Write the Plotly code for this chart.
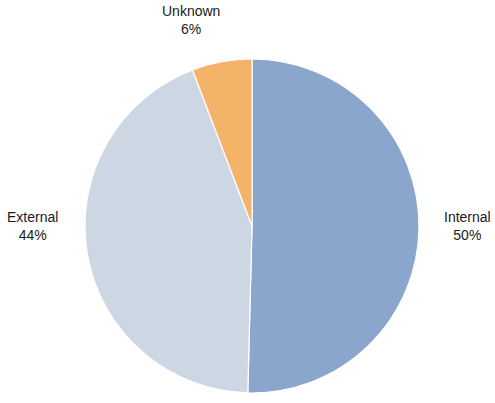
import plotly.graph_objects as go

# Share of incidents by origin
categories = ["Internal", "External", "Unknown"]
values = [50.4, 43.8, 5.8]
colors = ["#8AA6CC", "#CDD7E3", "#F5B36A"]

W, H = 495, 403
cx, cy, r = 252, 226, 167  # pie centre and radius in pixels

total = sum(values)
pct = [round(v / total * 100) for v in values]

fig = go.Figure(
    go.Pie(
        labels=categories,
        values=values,
        sort=False,
        direction="clockwise",
        rotation=0,
        marker=dict(colors=colors, line=dict(color="white", width=1.2)),
        textinfo="none",
        hoverinfo="label+percent",
        showlegend=False,
        domain=dict(
            x=[(cx - r) / W, (cx + r) / W],
            y=[(H - cy - r) / H, (H - cy + r) / H],
        ),
    )
)

# label placement (pixels, from top-left) for each category
label_pos = {"Internal": (467, 226), "External": (32, 226), "Unknown": (191, 20)}
for name, p in zip(categories, pct):
    x, y = label_pos[name]
    fig.add_annotation(
        x=x / W, y=1 - y / H, xref="paper", yref="paper",
        text=f"{name}<br>{p}%", showarrow=False,
        xanchor="center", yanchor="middle", align="center",
        font=dict(family="Liberation Sans, Arial, sans-serif", size=14, color="#1a1a1a"),
    )

fig.update_layout(
    width=W, height=H,
    margin=dict(l=0, r=0, t=0, b=0),
    paper_bgcolor="white", plot_bgcolor="white",
)

fig.write_html("out.html")
